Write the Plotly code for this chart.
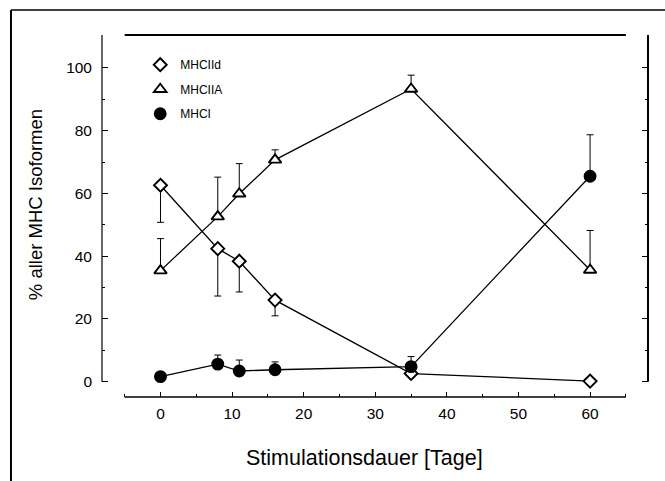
import plotly.graph_objects as go

# ---- data ----
days = [0, 8, 11, 16, 35, 60]

mhc_iid = [62.6, 42.4, 38.4, 26.0, 2.6, 0.2]
mhc_iid_err_minus = [11.8, 15.1, 9.8, 5.0, 0.0, 0.0]

mhc_iia = [35.4, 52.6, 59.9, 70.7, 93.3, 35.6]
mhc_iia_err_plus = [10.2, 12.6, 9.6, 3.2, 4.4, 12.6]

mhc_i = [1.6, 5.6, 3.4, 3.8, 4.8, 65.5]
mhc_i_err_plus = [0.0, 2.9, 3.5, 2.5, 3.2, 13.2]

series_names = ["MHCIId", "MHCIIA", "MHCI"]

x_tick_vals = [0, 10, 20, 30, 40, 50, 60]
x_minor_vals = [-5, 5, 15, 25, 35, 45, 55, 65]
y_tick_vals = [0, 20, 40, 60, 80, 100]
y_minor_vals = [10, 30, 50, 70, 90]

# ---- layout constants ----
X_RANGE = [-8.17, 68.09]
Y_RANGE = [-4.88, 110.5]
X_AXIS_SPAN = [-5, 65]
FONT = "Liberation Sans, Arial, sans-serif"

fig = go.Figure()

specs = [
    (series_names[0], mhc_iid, [0] * len(days), mhc_iid_err_minus, "diamond", "white", 10),
    (series_names[1], mhc_iia, mhc_iia_err_plus, [0] * len(days), "triangle-up", "white", 11),
    (series_names[2], mhc_i, mhc_i_err_plus, [0] * len(days), "circle", "black", 11),
]

for name, vals, eplus, eminus, sym, fill, size in specs:
    fig.add_trace(go.Scatter(
        x=days, y=vals, mode="lines+markers", name=name, showlegend=False,
        line=dict(color="black", width=1.3),
        marker=dict(symbol=sym, size=size, color=fill, line=dict(color="black", width=1.9)),
        error_y=dict(type="data", symmetric=False, array=eplus, arrayminus=eminus,
                     color="black", thickness=1, width=3.5),
    ))

# legend-only entries (marker only)
for i, (name, vals, eplus, eminus, sym, fill, size) in enumerate(specs):
    fig.add_trace(go.Scatter(
        x=[None], y=[None], mode="markers", name=name, legendgroup=f"g{i}",
        marker=dict(symbol=sym, size=size, color=fill, line=dict(color="black", width=1.9)),
    ))

# dummy trace for the right axis
fig.add_trace(go.Scatter(x=[None], y=[None], yaxis="y2", showlegend=False, hoverinfo="skip"))

axis_common = dict(showgrid=False, zeroline=False, showline=False)

fig.update_layout(
    width=665, height=481,
    margin=dict(l=102, r=17, t=35, b=84),
    paper_bgcolor="white", plot_bgcolor="white",
    font=dict(family=FONT, color="black"),
    xaxis=dict(range=X_RANGE, tickvals=x_tick_vals, ticks="inside", ticklen=5, tickwidth=1.2,
               tickcolor="black", tickfont=dict(size=15.5), ticklabelstandoff=5,
               minor=dict(tickvals=x_minor_vals, ticks="inside", ticklen=3, tickwidth=1.2, tickcolor="black"),
               **axis_common),
    yaxis=dict(range=Y_RANGE, tickvals=y_tick_vals, ticks="inside", ticklen=6, tickwidth=1.2,
               tickcolor="black", tickfont=dict(size=15.5), ticklabelstandoff=9,
               minor=dict(tickvals=y_minor_vals, ticks="inside", ticklen=3, tickwidth=1.2, tickcolor="black"),
               **axis_common),
    yaxis2=dict(range=Y_RANGE, overlaying="y", side="right", tickvals=y_tick_vals, ticks="inside",
                ticklen=6, tickwidth=1.2, tickcolor="black", showticklabels=False,
                minor=dict(tickvals=y_minor_vals, ticks="inside", ticklen=3, tickwidth=1.2, tickcolor="black"),
                **axis_common),
    legend=dict(x=0.07, y=0.958, xanchor="left", yanchor="top", bgcolor="rgba(0,0,0,0)",
                font=dict(size=12, family=FONT), traceorder="grouped", tracegroupgap=5.5,
                borderwidth=0),
    showlegend=True,
)

shapes = [
    # bottom x axis line
    dict(type="line", xref="x", yref="paper", x0=X_AXIS_SPAN[0], x1=X_AXIS_SPAN[1], y0=0, y1=0,
         line=dict(color="black", width=1.5)),
    # top frame line
    dict(type="line", xref="x", yref="paper", x0=X_AXIS_SPAN[0], x1=X_AXIS_SPAN[1], y0=1, y1=1,
         line=dict(color="black", width=2.2)),
    # left axis line
    dict(type="line", xref="paper", yref="y", x0=0, x1=0, y0=0, y1=Y_RANGE[1],
         line=dict(color="black", width=1.2)),
    # right axis line
    dict(type="line", xref="paper", yref="y", x0=1, x1=1, y0=0, y1=Y_RANGE[1],
         line=dict(color="black", width=2)),
    # outer figure frame (left and top edges)
    dict(type="line", xref="paper", yref="paper", x0=-0.1667, x1=-0.1667, y0=-0.24, y1=1.069,
         line=dict(color="black", width=2)),
    dict(type="line", xref="paper", yref="paper", x0=-0.1667, x1=1.04, y0=1.069, y1=1.069,
         line=dict(color="black", width=1.5)),
]
fig.update_layout(shapes=shapes)

fig.add_annotation(text="Stimulationsdauer [Tage]", xref="paper", yref="paper", x=0.48, y=-0.1685,
                   xanchor="center", yanchor="middle", showarrow=False, font=dict(size=21.5, family=FONT))
fig.add_annotation(text="% aller MHC Isoformen", xref="paper", yref="paper", x=-0.1227, y=0.53,
                   xanchor="center", yanchor="middle", textangle=-90, showarrow=False,
                   font=dict(size=18.5, family=FONT))

fig.write_html("out.html")
